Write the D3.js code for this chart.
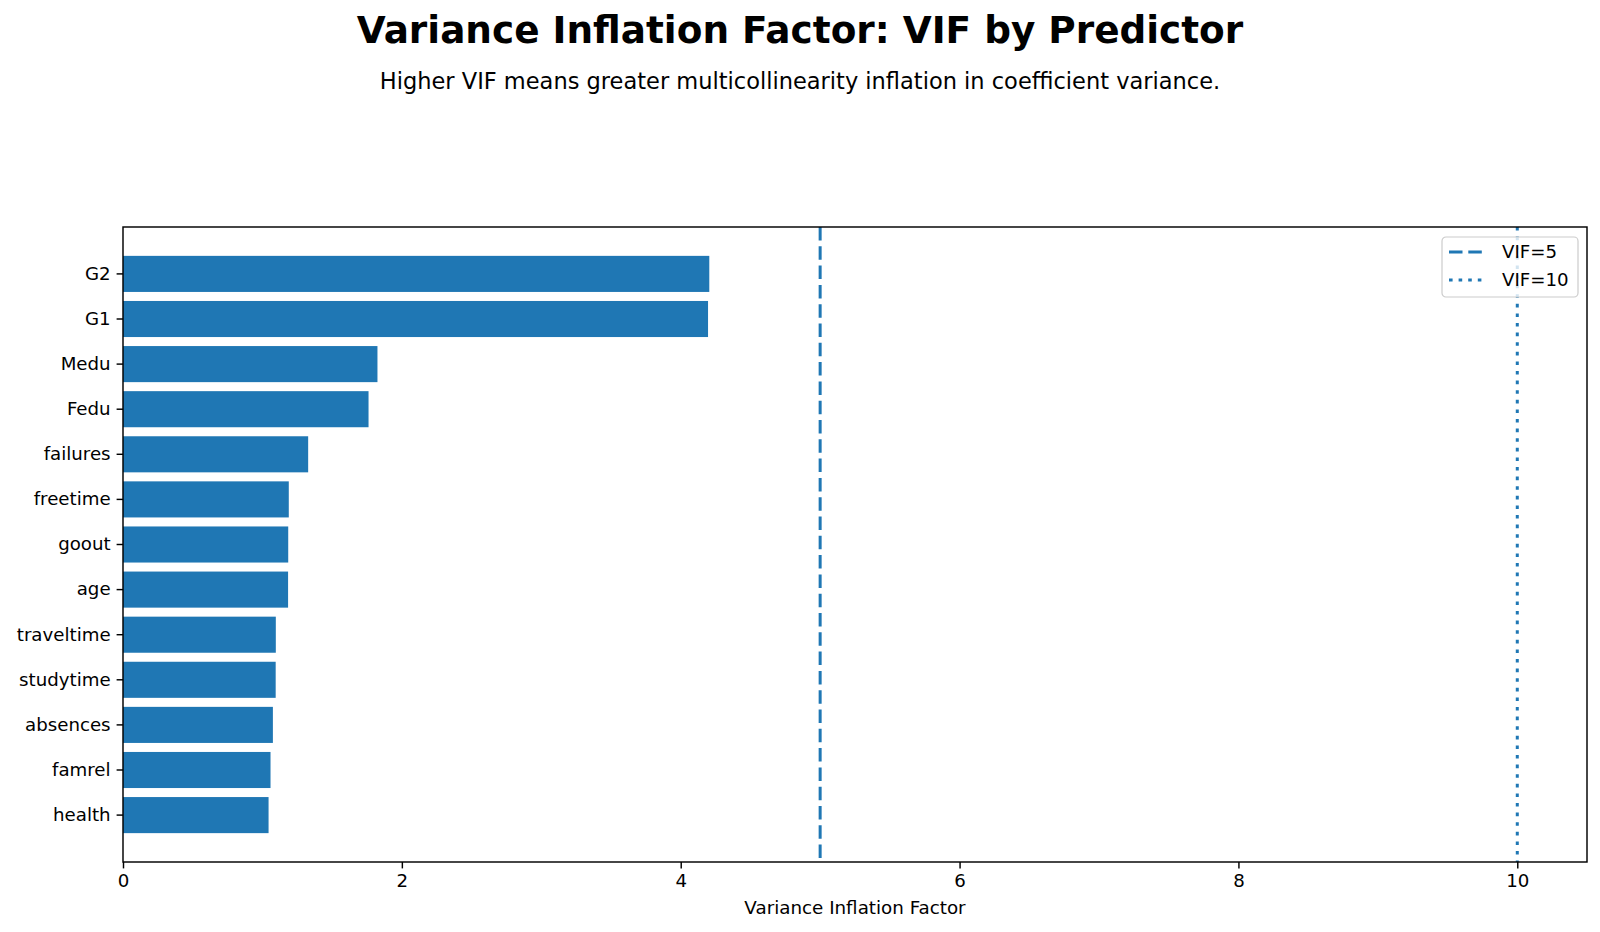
<!DOCTYPE html>
<html lang="en">
<head>
  <meta charset="UTF-8" />
  <title>Variance Inflation Factor: VIF by Predictor</title>
  <script src="https://cdn.jsdelivr.net/npm/d3@7/dist/d3.min.js"></script>
  <style>
    body {
      margin: 0;
      background: #ffffff;
      font-family: "DejaVu Sans", sans-serif;
    }
    svg { display: block; }
    .axis text {
      font-family: "DejaVu Sans", sans-serif;
      font-size: 18.2px;
      fill: #000;
    }
    .axis path,
    .axis line {
      stroke: #000;
      stroke-width: 1.45px;
    }
  </style>
</head>
<body>
  <svg id="chart" width="1600" height="932"></svg>

  <script>
  // predictors, top to bottom
  const predictors = ["G2", "G1", "Medu", "Fedu", "failures", "freetime", "goout",
                      "age", "traveltime", "studytime", "absences", "famrel", "health"];
  const vifValues  = [4.205, 4.196, 1.825, 1.761, 1.328, 1.189, 1.185,
                      1.184, 1.096, 1.095, 1.075, 1.058, 1.044];
  const xTicks = [0, 2, 4, 6, 8, 10];
  const thresholds = [
    { value: 5,  label: "VIF=5",  dash: "13.5,5.8" },
    { value: 10, label: "VIF=10", dash: "3.6,6" }
  ];

  const data = predictors.map((p, i) => ({ name: p, vif: vifValues[i] }));

  const svg = d3.select("#chart");
  const margin = { top: 227, right: 13, bottom: 70, left: 123 };
  const W = 1600, H = 932;
  const width  = W - margin.left - margin.right;
  const height = H - margin.top - margin.bottom;
  const blue = "#1f77b4";

  // titles
  svg.append("text")
    .attr("x", W / 2)
    .attr("y", 43)
    .attr("text-anchor", "middle")
    .style("font-size", "37.4px")
    .style("font-weight", "bold")
    .text("Variance Inflation Factor: VIF by Predictor");

  svg.append("text")
    .attr("x", W / 2)
    .attr("y", 89)
    .attr("text-anchor", "middle")
    .style("font-size", "22.5px")
    .text("Higher VIF means greater multicollinearity inflation in coefficient variance.");

  const chart = svg.append("g")
    .attr("transform", `translate(${margin.left},${margin.top})`);

  const x = d3.scaleLinear()
    .domain([0, 10.5])
    .range([0, width]);

  const y = d3.scaleBand()
    .domain(predictors)
    .range([0, height])
    .paddingInner(0.2)
    .paddingOuter(0.64);

  chart.selectAll(".bar")
    .data(data)
    .join("rect")
      .attr("class", "bar")
      .attr("x", 0)
      .attr("y", d => y(d.name))
      .attr("width", d => x(d.vif))
      .attr("height", y.bandwidth())
      .attr("fill", blue);

  // threshold lines
  chart.selectAll(".thr")
    .data(thresholds)
    .join("line")
      .attr("class", "thr")
      .attr("x1", d => x(d.value))
      .attr("x2", d => x(d.value))
      .attr("y1", 0)
      .attr("y2", height)
      .attr("stroke", blue)
      .attr("stroke-width", 3)
      .attr("stroke-dasharray", d => d.dash);

  // axes
  chart.append("g")
    .attr("class", "axis")
    .attr("transform", `translate(0,${height})`)
    .call(d3.axisBottom(x).tickValues(xTicks).tickFormat(d3.format("d"))
      .tickSizeInner(6.4).tickSizeOuter(0).tickPadding(6))
    .call(g => g.select(".domain").remove());

  chart.append("g")
    .attr("class", "axis")
    .call(d3.axisLeft(y).tickSizeInner(6.4).tickSizeOuter(0).tickPadding(6))
    .call(g => g.select(".domain").remove());

  // frame
  chart.append("rect")
    .attr("x", 0)
    .attr("y", 0)
    .attr("width", width)
    .attr("height", height)
    .attr("fill", "none")
    .attr("stroke", "#000")
    .attr("stroke-width", 1.45);

  svg.append("text")
    .attr("x", margin.left + width / 2)
    .attr("y", 914)
    .attr("text-anchor", "middle")
    .style("font-size", "18.3px")
    .text("Variance Inflation Factor");

  // legend
  const lg = svg.append("g").attr("transform", "translate(1442,237)");
  lg.append("rect")
    .attr("width", 136)
    .attr("height", 60)
    .attr("rx", 4)
    .attr("fill", "#fff")
    .attr("fill-opacity", 0.8)
    .attr("stroke", "#cccccc")
    .attr("stroke-width", 1.2);

  const rows = lg.selectAll(".lrow")
    .data(thresholds)
    .join("g")
      .attr("class", "lrow")
      .attr("transform", (d, i) => `translate(0,${15 + i * 28})`);

  rows.append("line")
    .attr("x1", 7)
    .attr("x2", 41)
    .attr("stroke", blue)
    .attr("stroke-width", 3)
    .attr("stroke-dasharray", d => d.dash);

  rows.append("text")
    .attr("x", 60)
    .attr("dy", "0.35em")
    .style("font-size", "18.2px")
    .text(d => d.label);
  </script>
</body>
</html>
